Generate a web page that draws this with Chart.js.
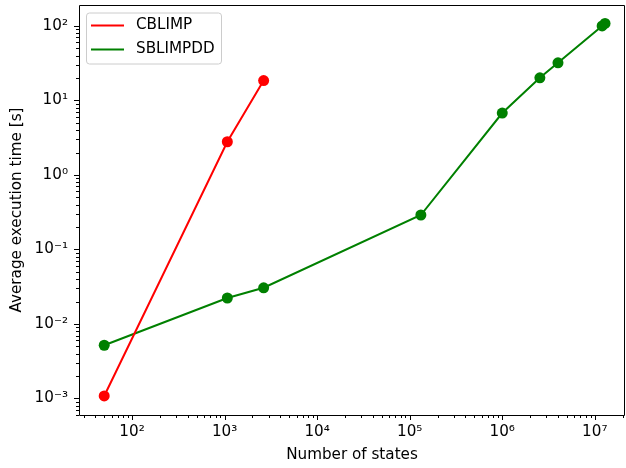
<!DOCTYPE html>
<html>
<head>
<meta charset="utf-8">
<script src="https://cdn.jsdelivr.net/npm/chart.js@4"></script>
<style>
  html, body { margin: 0; padding: 0; background: #fff; }
  #wrap { width: 626px; height: 468px; }
</style>
</head>
<body>
<div id="wrap"><canvas id="chart" width="626" height="468"></canvas></div>
<script>
// data
const cblimpStates = [50, 1070, 2640];
const cblimpTime = [0.00108, 2.79, 18.5];
const sblimpStates = [50, 1070, 2640, 132000, 1000000, 2550000, 4000000, 12000000, 12900000];
const sblimpTime = [0.00518, 0.0223, 0.0306, 0.29, 6.78, 20.1, 32, 100, 108];

const seriesNames = ['CBLIMP', 'SBLIMPDD'];
const seriesColors = ['#ff0000', '#008000'];

const xTitle = 'Number of states';
const yTitle = 'Average execution time [s]';

const FONT = 'DejaVu Sans';
const FS = 15.2;

const sup = { '0': '⁰', '1': '¹', '2': '²', '3': '³', '4': '⁴', '5': '⁵', '6': '⁶', '7': '⁷', '8': '⁸', '9': '⁹', '-': '⁻' };
function powLabel(v) {
    let e = Math.round(Math.log10(v));
    return '10' + String(e).split('').map(c => sup[c]).join('');
}

function toPoints(xs, ys) {
    let pts = [];
    for (let i = 0; i < xs.length; i++) pts.push({ x: xs[i], y: ys[i] });
    return pts;
}

// log ticks: 1..9 x 10^n inside the range
function logTicks(scale) {
    let ticks = [];
    let lo = Math.floor(Math.log10(scale.min));
    let hi = Math.ceil(Math.log10(scale.max));
    for (let e = lo; e <= hi; e++) {
        for (let m = 1; m < 10; m++) {
            let v = m * Math.pow(10, e);
            if (v >= scale.min && v <= scale.max) ticks.push({ value: v, major: m === 1 });
        }
    }
    scale.ticks = ticks;
}

function isPow10(v) {
    let l = Math.log10(v);
    return Math.abs(l - Math.round(l)) < 1e-9;
}

// spines, tick marks and the legend box
const framePlugin = {
    id: 'frame',
    afterDraw(chart) {
        const ctx = chart.ctx;
        const a = chart.chartArea;
        ctx.save();
        ctx.strokeStyle = '#000';
        ctx.lineWidth = 1;
        ctx.beginPath();
        ctx.rect(Math.round(a.left) + 0.5, Math.round(a.top) + 0.5, Math.round(a.right - a.left) - 1, Math.round(a.bottom - a.top));
        ctx.stroke();

        const xs = chart.scales.x;
        const ys = chart.scales.y;
        ctx.beginPath();
        xs.ticks.forEach(t => {
            let px = Math.round(xs.getPixelForValue(t.value)) + 0.5;
            let len = t.major ? 5 : 3;
            ctx.moveTo(px, a.bottom);
            ctx.lineTo(px, a.bottom + len);
        });
        ys.ticks.forEach(t => {
            let py = Math.round(ys.getPixelForValue(t.value)) + 0.5;
            let len = t.major ? 5 : 3;
            ctx.moveTo(a.left, py);
            ctx.lineTo(a.left - len, py);
        });
        ctx.stroke();

        // legend
        let bx = a.left + 7, by = a.top + 7.5, bw = 135, bh = 51;
        ctx.fillStyle = 'rgba(255,255,255,0.8)';
        ctx.strokeStyle = '#cccccc';
        ctx.lineWidth = 1;
        ctx.beginPath();
        ctx.roundRect(bx + 0.5, by + 0.5, bw, bh, 3);
        ctx.fill();
        ctx.stroke();
        ctx.font = FS + 'px "' + FONT + '"';
        ctx.textBaseline = 'middle';
        chart.data.datasets.forEach((ds, i) => {
            let ly = by + 13 + i * 24;
            ctx.strokeStyle = ds.borderColor;
            ctx.lineWidth = 2;
            ctx.beginPath();
            ctx.moveTo(bx + 5, ly);
            ctx.lineTo(bx + 38, ly);
            ctx.stroke();
            ctx.fillStyle = '#000';
            ctx.fillText(ds.label, bx + 50, ly);
        });
        ctx.restore();
    }
};

const datasets = [
    { data: toPoints(cblimpStates, cblimpTime) },
    { data: toPoints(sblimpStates, sblimpTime) }
].map((d, i) => ({
    label: seriesNames[i],
    data: d.data,
    borderColor: seriesColors[i],
    backgroundColor: seriesColors[i],
    borderWidth: 2,
    pointRadius: 5.5,
    pointHoverRadius: 5.5,
    pointBorderWidth: 0,
    tension: 0,
    fill: false,
}));

let options = {
    responsive: false,
    animation: false,
    events: [],
    layout: { autoPadding: false, padding: { top: 5, right: 1, left: 0, bottom: 0 } },
    plugins: {
        legend: { display: false },
        tooltip: { enabled: false },
    },
    scales: {
        x: {
            type: 'logarithmic',
            position: 'bottom',
            min: 26.7,
            max: 2.12e7,
            afterBuildTicks: logTicks,
            afterFit: (s) => { s.height = 53; s.paddingLeft = 0; s.paddingRight = 0; },
            grid: { display: false, drawTicks: true, tickLength: 5 },
            border: { display: false },
            ticks: {
                autoSkip: false,
                maxRotation: 0,
                padding: 3,
                color: '#000',
                font: { family: FONT, size: FS },
                callback: (v) => isPow10(v) ? powLabel(v) : '',
            },
            title: {
                display: true,
                text: xTitle,
                color: '#000',
                font: { family: FONT, size: FS },
                padding: { top: 0, bottom: 4 },
            },
        },
        y: {
            type: 'logarithmic',
            position: 'left',
            min: 6.16e-4,
            max: 191,
            afterBuildTicks: logTicks,
            afterFit: (s) => { s.width = 79; s.paddingTop = 0; s.paddingBottom = 0; },
            grid: { display: false, drawTicks: true, tickLength: 5 },
            border: { display: false },
            ticks: {
                autoSkip: false,
                padding: 6,
                color: '#000',
                font: { family: FONT, size: FS },
                callback: (v) => isPow10(v) ? powLabel(v) : '',
            },
            title: {
                display: true,
                text: yTitle,
                color: '#000',
                font: { family: FONT, size: FS },
                padding: { top: 8, bottom: 0 },
            },
        },
    },
};

const ctx = document.getElementById('chart').getContext('2d');
const myChart = new Chart(ctx, {
    type: 'line',
    data: { datasets: datasets },
    options: options,
    plugins: [framePlugin],
});
</script>
</body>
</html>
